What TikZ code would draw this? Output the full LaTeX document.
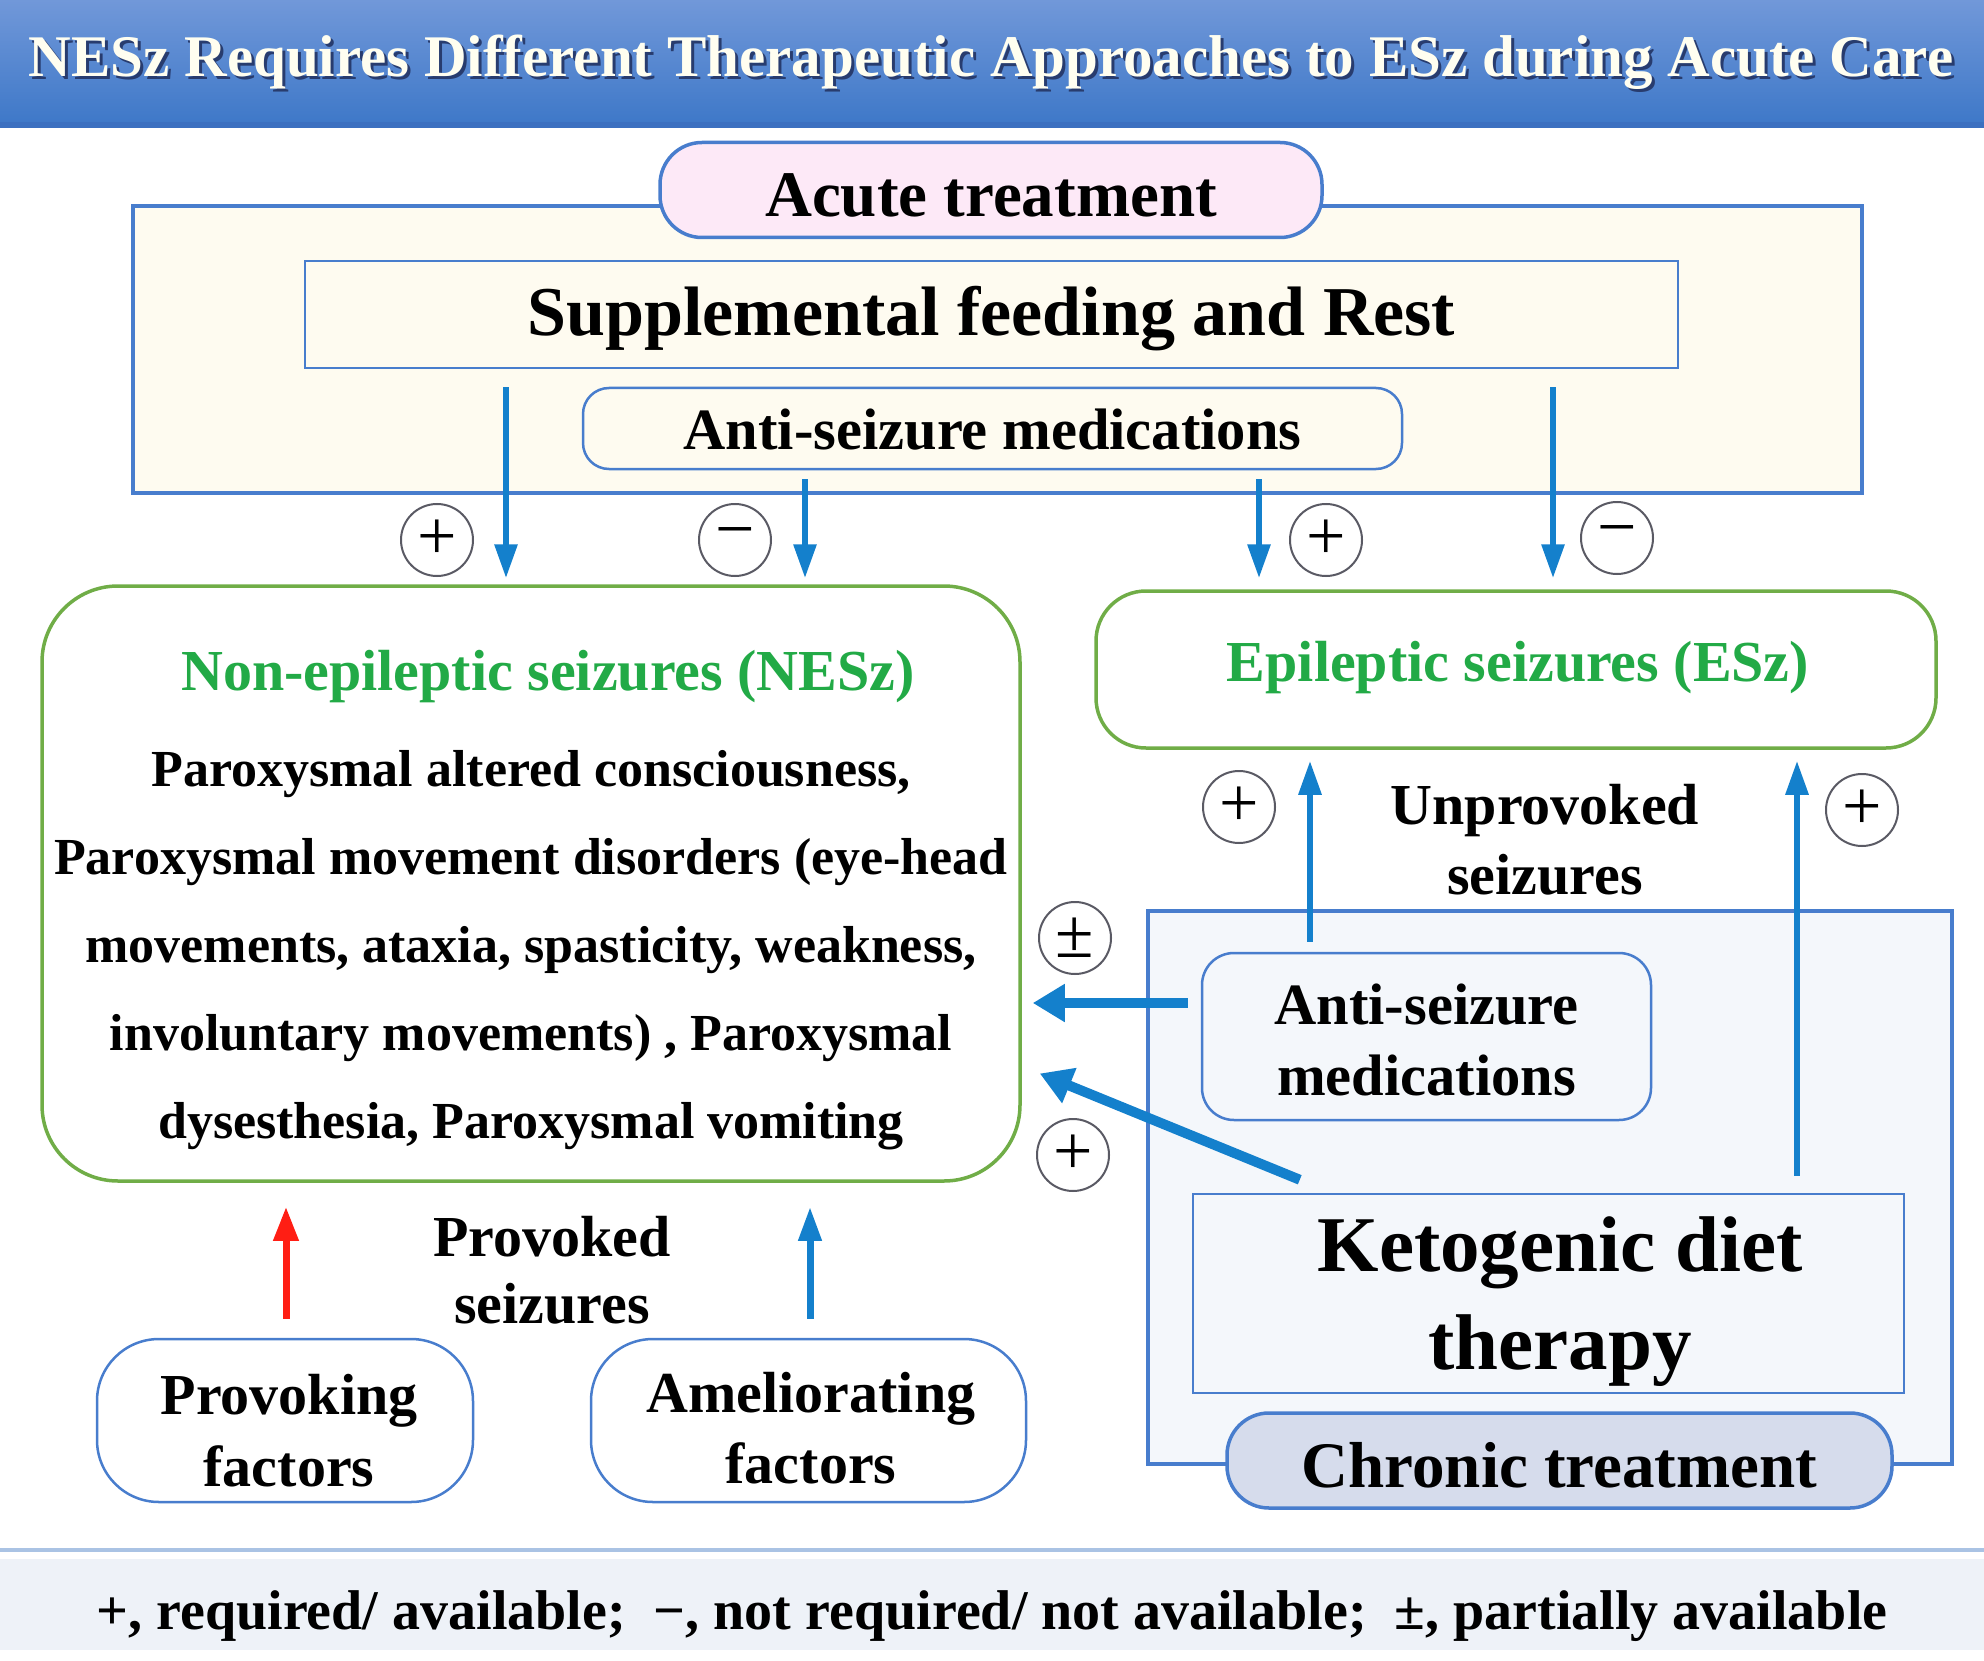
\documentclass[tikz,border=0pt]{standalone}
\usepackage{fontspec}
\setmainfont{Liberation Serif}
\usetikzlibrary{arrows.meta,calc}
\definecolor{titletop}{RGB}{113,152,217}
\definecolor{titlebot}{RGB}{62,120,200}
\definecolor{titleline}{RGB}{60,112,192}
\definecolor{frameblue}{RGB}{72,125,205}
\definecolor{arrowblue}{RGB}{20,128,204}
\definecolor{nesgreen}{RGB}{112,173,71}
\definecolor{textgreen}{RGB}{34,170,70}
\definecolor{creamfill}{RGB}{254,251,240}
\definecolor{chronfill}{RGB}{244,247,251}
\definecolor{pinkfill}{RGB}{253,233,247}
\definecolor{pillgray}{RGB}{214,220,236}
\definecolor{footfill}{RGB}{238,242,248}
\definecolor{footline}{RGB}{170,195,228}
\definecolor{circgray}{RGB}{90,90,100}
\definecolor{arrowred}{RGB}{255,30,20}
\definecolor{titleshadow}{RGB}{40,60,110}
\definecolor{titletext}{RGB}{255,254,240}
\newcommand{\myfs}[2]{\fontsize{#1}{#2}\selectfont}
\tikzset{
  every node/.style={font=\bfseries, inner sep=0pt},
  pillbox/.style={draw=frameblue, line width=3.5pt, rounded corners=42pt},
  arr/.style={draw=arrowblue, line width=6pt, -{Triangle[width=22pt,length=34pt]}},
  thickarr/.style={draw=arrowblue, line width=10pt, -{Triangle[width=36pt,length=32pt]}},
  redarr/.style={draw=arrowred, line width=7pt, -{Triangle[width=24pt,length=34pt]}},
  signc/.style={circle, draw=circgray, line width=2pt, fill=white, minimum size=72pt, font=\mdseries\myfs{70}{70}},
}
\begin{document}
\begin{tikzpicture}[x=1pt,y=-1pt]
\useasboundingbox (0,0) rectangle (1984,1661);
% title bar
\shade[top color=titletop, bottom color=titlebot] (0,0) rectangle (1984,124);
\fill[titleline] (0,122) rectangle (1984,128);
\node[text=titleshadow, font=\bfseries\myfs{59}{66}] at (994,65) {NESz Requires Different Therapeutic Approaches to ESz during Acute Care};
\node[text=titletext, font=\bfseries\myfs{59}{66}] (title) at (991,62) {NESz Requires Different Therapeutic Approaches to ESz during Acute Care};

% acute frame
\draw[draw=frameblue, line width=3.5pt, fill=creamfill] (133,206) rectangle (1862,493);
\node[pillbox, fill=pinkfill, minimum width=662pt, minimum height=95pt] (acute) at (991,190) {};
\node[font=\bfseries\myfs{65}{70}] (acutetext) at (991,195) {Acute treatment};
\node[draw=frameblue, line width=2.5pt, fill=creamfill, minimum width=1373pt, minimum height=107pt] (supp) at (991.5,314.5) {};
\node[font=\bfseries\myfs{70}{70}] (supptext) at (991.5,319) {Supplemental feeding and Rest};
\node[draw=frameblue, line width=2.5pt, rounded corners=26pt, fill=creamfill, minimum width=819pt, minimum height=81pt] (tasm) at (992.5,428.5) {};
\node[font=\bfseries\myfs{58.5}{60}] (tasmtext) at (992.5,430) {Anti-seizure medications};

% NESz box
\node[draw=nesgreen, line width=3.5pt, rounded corners=76pt, fill=white, minimum width=978pt, minimum height=595pt] (nesz) at (531,883.5) {};
\node[text=textgreen, font=\bfseries\myfs{58}{60}] (nesztitle) at (548,677) {Non-epileptic seizures (NESz)};
\node[align=center, font=\bfseries\myfs{52}{88}] (neszbody) at (531,950) {Paroxysmal altered consciousness,\\Paroxysmal movement disorders (eye-head\\movements, ataxia, spasticity, weakness,\\involuntary movements) , Paroxysmal\\dysesthesia, Paroxysmal vomiting};

% ESz box
\node[draw=nesgreen, line width=3.5pt, rounded corners=50pt, fill=white, minimum width=840pt, minimum height=157pt] (esz) at (1516,669.5) {};
\node[text=textgreen, font=\bfseries\myfs{58}{60}] (esztitle) at (1518,668) {Epileptic seizures (ESz)};
\node[align=center, font=\bfseries\myfs{58}{70}] (unprov) at (1545,840) {Unprovoked\\seizures};

% chronic frame
\draw[draw=frameblue, line width=3.5pt, fill=chronfill] (1148,911) rectangle (1952,1464);
\node[draw=frameblue, line width=2.5pt, rounded corners=32pt, fill=chronfill, minimum width=449pt, minimum height=167pt] (casm) at (1426.5,1036.5) {};
\node[align=center, font=\bfseries\myfs{58.5}{71}] (casmtext) at (1426.5,1040) {Anti-seizure\\medications};
\node[draw=frameblue, line width=2.5pt, fill=chronfill, minimum width=711pt, minimum height=199pt] (keto) at (1548.5,1293.5) {};
\node[align=center, font=\bfseries\myfs{79}{98}] (ketotext) at (1560,1302) {Ketogenic diet\\therapy};
\node[pillbox, fill=pillgray, minimum width=665pt, minimum height=95pt] (chronic) at (1559.5,1460.5) {};
\node[font=\bfseries\myfs{65}{70}] (chronictext) at (1559.5,1465) {Chronic treatment};

% provoking / ameliorating
\node[draw=frameblue, line width=2.5pt, rounded corners=62pt, fill=white, minimum width=376pt, minimum height=163pt] (prov) at (285,1420.5) {};
\node[align=center, font=\bfseries\myfs{58}{72}] (provtext) at (289,1431) {Provoking\\factors};
\node[draw=frameblue, line width=2.5pt, rounded corners=62pt, fill=white, minimum width=435pt, minimum height=163pt] (amel) at (808.5,1420.5) {};
\node[align=center, font=\bfseries\myfs{58}{71}] (ameltext) at (811,1428) {Ameliorating\\factors};
\node[align=center, font=\bfseries\myfs{58}{67}] (provoked) at (552,1270) {Provoked\\seizures};

% arrow x positions
\coordinate (x1) at (506,0);
\coordinate (x2) at (805,0);
\coordinate (x3) at (1259,0);
\coordinate (x4) at (1553,0);
\coordinate (x5) at (1310,0);
\coordinate (x6) at (1797,0);
\coordinate (x7) at (286,0);
\coordinate (x8) at (810,0);
\coordinate (y1) at (0,1003);

\draw[arr, shorten <=18pt, shorten >=6pt] (supp.south -| x1) -- (nesz.north -| x1);
\draw[arr, shorten <=9pt, shorten >=6pt] (tasm.south -| x2) -- (nesz.north -| x2);
\draw[arr, shorten <=9pt, shorten >=11pt] (tasm.south -| x3) -- (esz.north -| x3);
\draw[arr, shorten <=18pt, shorten >=11pt] (supp.south -| x4) -- (esz.north -| x4);
\draw[arr, shorten <=10pt, shorten >=11pt] (casm.north -| x5) -- (esz.south -| x5);
\draw[arr, shorten <=17pt, shorten >=11pt] (keto.north -| x6) -- (esz.south -| x6);
\draw[thickarr, shorten <=13pt, shorten >=11pt] (casm.west |- y1) -- (nesz.east |- y1);
\draw[thickarr] ($(keto.north west)+(108,-13)$) -- ($(nesz.east)+(18,190)$);
\draw[redarr, shorten <=19pt, shorten >=24pt] (prov.north -| x7) -- (nesz.south -| x7);
\draw[arr, line width=7pt, shorten <=19pt, shorten >=24pt] (amel.north -| x8) -- (nesz.south -| x8);

% sign circles
\node[signc] (s1) at (437,540) {+};
\node[signc] (s2) at (735,540) {−};
\node[signc] (s3) at (1326,540) {+};
\node[signc] (s4) at (1617,538) {−};
\node[signc] (s5) at (1239,807) {+};
\node[signc] (s6) at (1862,810) {+};
\node[signc] (s7) at (1075,938) {±};
\node[signc] (s8) at (1073,1155) {+};

% footer
\fill[footfill] (0,1559) rectangle (1984,1650);
\draw[footline, line width=4pt] (0,1550) -- (1984,1550);
\node[font=\bfseries\myfs{56}{60}] (footer) at (992,1616) {+, required/ available;\ \ −, not required/ not available;\ \ ±, partially available};
\end{tikzpicture}
\end{document}
